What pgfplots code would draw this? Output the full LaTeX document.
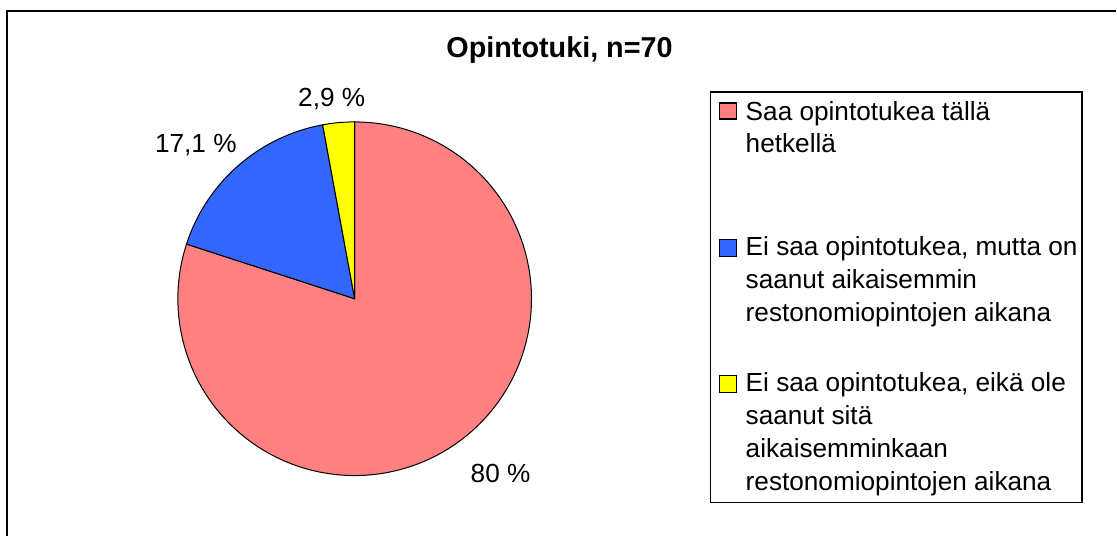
\documentclass[border=0pt]{standalone}
\usepackage{pgfplots}
\pgfplotsset{compat=1.18}
\usepackage{fontspec}
\setmainfont{Liberation Sans}
\definecolor{pred}{HTML}{FF8080}
\definecolor{pblue}{HTML}{3366FF}
\definecolor{pyel}{HTML}{FFFF00}
\tikzset{lab/.style={font=\fontsize{13.1}{15}\selectfont},
  leg/.style={font=\fontsize{13.1}{15}\selectfont, anchor=base west, inner sep=0pt}}
\begin{document}
\begin{tikzpicture}
\pgfmathsetmacro{\va}{80}
\pgfmathsetmacro{\vb}{17.1}
\pgfmathsetmacro{\vc}{2.9}
\pgfmathsetmacro{\aA}{90}
\pgfmathsetmacro{\aB}{90-3.6*\va}
\pgfmathsetmacro{\aC}{\aB-3.6*\vb}
\pgfmathsetmacro{\aD}{\aC-3.6*\vc}
\begin{axis}[scale only axis, width=558.5pt, height=268pt,
  xmin=0, xmax=1117, ymin=0, ymax=536, y dir=reverse,
  hide axis, clip=false, samples=120]
\path (axis cs:0,0) rectangle (axis cs:1117,536);
\draw[line width=1pt] (axis cs:7,536) -- (axis cs:7,11) -- (axis cs:1117,11);
\addplot[fill=pred, draw=black, line width=0.5pt, domain=\aB:\aA, variable=\t]
  ({355+177*cos(\t)},{299-177*sin(\t)}) -- (axis cs:355,299) -- cycle;
\addplot[fill=pblue, draw=black, line width=0.5pt, domain=\aC:\aB, variable=\t]
  ({355+177*cos(\t)},{299-177*sin(\t)}) -- (axis cs:355,299) -- cycle;
\addplot[fill=pyel, draw=black, line width=0.5pt, domain=\aD:\aC, samples=20, variable=\t]
  ({355+177*cos(\t)},{299-177*sin(\t)}) -- (axis cs:355,299) -- cycle;
\node[font=\fontsize{14.4}{16}\selectfont\bfseries, anchor=base] at (axis cs:560,58) {Opintotuki, n=70};
\node[lab, anchor=base] at (axis cs:332,107) {2,9 \%};
\node[lab, anchor=base] at (axis cs:196,153) {17,1 \%};
\node[lab, anchor=base] at (axis cs:501,483) {80 \%};
% legend
\draw[line width=0.75pt, fill=white] (axis cs:711,92) rectangle (axis cs:1083,503);
\draw[fill=pred, line width=0.6pt] (axis cs:720,103) rectangle (axis cs:737,119);
\draw[fill=pblue, line width=0.6pt] (axis cs:720,240) rectangle (axis cs:737,257);
\draw[fill=pyel, line width=0.6pt] (axis cs:720,376) rectangle (axis cs:737,393);
\node[leg] at (axis cs:746,121) {Saa opintotukea tällä};
\node[leg] at (axis cs:746,153) {hetkellä};
\node[leg] at (axis cs:746,256) {Ei saa opintotukea, mutta on};
\node[leg] at (axis cs:746,289) {saanut aikaisemmin};
\node[leg] at (axis cs:746,322) {restonomiopintojen aikana};
\node[leg] at (axis cs:746,392) {Ei saa opintotukea, eikä ole};
\node[leg] at (axis cs:746,425) {saanut sitä};
\node[leg] at (axis cs:746,458) {aikaisemminkaan};
\node[leg] at (axis cs:746,491) {restonomiopintojen aikana};
\end{axis}
\end{tikzpicture}
\end{document}
